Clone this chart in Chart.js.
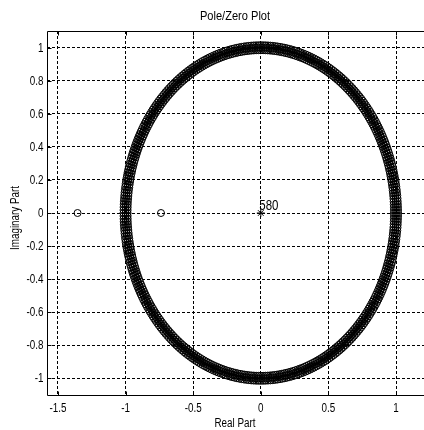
<!DOCTYPE html>
<html>
<head>
<meta charset="utf-8">
<title>Pole/Zero Plot</title>
<script src="https://cdn.jsdelivr.net/npm/chart.js@4.4.1/dist/chart.umd.min.js"></script>
<style>
  html, body { margin: 0; padding: 0; background: #fff; overflow: hidden; }
  canvas { display: block; }
</style>
</head>
<body>
<canvas id="pz" width="424" height="430"></canvas>
<script>
// zeros packed around the unit circle, given as angle (degrees) and radius
const ringAnglesDeg = [
  0, 1, 2, 3, 4, 5, 6, 7, 8, 9, 10, 11, 12, 13, 14, 15, 16, 17, 18, 19,
  20, 21, 22, 23, 24, 25, 26, 27, 28, 29, 30, 31, 32, 33, 34, 35, 36, 37, 38, 39,
  40, 41, 42, 43, 44, 45, 46, 47, 48, 49, 50, 51, 52, 53, 54, 55, 56, 57, 58, 59,
  60, 61, 62, 63, 64, 65, 66, 67, 68, 69, 70, 71, 72, 73, 74, 75, 76, 77, 78, 79,
  80, 81, 82, 83, 84, 85, 86, 87, 88, 89, 90, 91, 92, 93, 94, 95, 96, 97, 98, 99,
  100, 101, 102, 103, 104, 105, 106, 107, 108, 109, 110, 111, 112, 113, 114, 115, 116, 117, 118, 119,
  120, 121, 122, 123, 124, 125, 126, 127, 128, 129, 130, 131, 132, 133, 134, 135, 136, 137, 138, 139,
  140, 141, 142, 143, 144, 145, 146, 147, 148, 149, 150, 151, 152, 153, 154, 155, 156, 157, 158, 159,
  160, 161, 162, 163, 164, 165, 166, 167, 168, 169, 170, 171, 172, 173, 174, 175, 176, 177, 178, 179,
  180, 181, 182, 183, 184, 185, 186, 187, 188, 189, 190, 191, 192, 193, 194, 195, 196, 197, 198, 199,
  200, 201, 202, 203, 204, 205, 206, 207, 208, 209, 210, 211, 212, 213, 214, 215, 216, 217, 218, 219,
  220, 221, 222, 223, 224, 225, 226, 227, 228, 229, 230, 231, 232, 233, 234, 235, 236, 237, 238, 239,
  240, 241, 242, 243, 244, 245, 246, 247, 248, 249, 250, 251, 252, 253, 254, 255, 256, 257, 258, 259,
  260, 261, 262, 263, 264, 265, 266, 267, 268, 269, 270, 271, 272, 273, 274, 275, 276, 277, 278, 279,
  280, 281, 282, 283, 284, 285, 286, 287, 288, 289, 290, 291, 292, 293, 294, 295, 296, 297, 298, 299,
  300, 301, 302, 303, 304, 305, 306, 307, 308, 309, 310, 311, 312, 313, 314, 315, 316, 317, 318, 319,
  320, 321, 322, 323, 324, 325, 326, 327, 328, 329, 330, 331, 332, 333, 334, 335, 336, 337, 338, 339,
  340, 341, 342, 343, 344, 345, 346, 347, 348, 349, 350, 351, 352, 353, 354, 355, 356, 357, 358, 359
];
const ringRadii = [0.985, 1.0, 1.015];

// zeros on the real axis (reciprocal pair)
const realZeros = [-1.355, -0.738];

// all poles sit at the origin
const poleX = [0];
const poleY = [0];
const poleCount = 580;

const xTicks = [-1.5, -1, -0.5, 0, 0.5, 1];
const xTickLabels = ['-1.5', '-1', '-0.5', '0', '0.5', '1'];
const yTicks = [-1, -0.8, -0.6, -0.4, -0.2, 0, 0.2, 0.4, 0.6, 0.8, 1];
const yTickLabels = ['-1', '-0.8', '-0.6', '-0.4', '-0.2', '0', '0.2', '0.4', '0.6', '0.8', '1'];

const FONT = "'Liberation Sans', Arial, sans-serif";
const NARROW = 0.82;   // squeeze text horizontally, like a narrow Helvetica

// polar -> cartesian for the ring zeros
const zeroPoints = [];
ringAnglesDeg.forEach(a => {
  const t = a * Math.PI / 180;
  ringRadii.forEach(r => zeroPoints.push({ x: r * Math.cos(t), y: r * Math.sin(t) }));
});
realZeros.forEach(z => zeroPoints.push({ x: z, y: 0 }));

const polePoints = poleX.map((x, i) => ({ x: x, y: poleY[i] }));

function narrowText(ctx, text, x, y, size, align, angle) {
  ctx.save();
  ctx.translate(x, y);
  if (angle) ctx.rotate(angle);
  ctx.scale(NARROW, 1);
  ctx.font = size + 'px ' + FONT;
  ctx.textAlign = align;
  ctx.textBaseline = 'alphabetic';
  ctx.fillText(text, 0, 0);
  ctx.restore();
}

// box, inward ticks, tick labels, title, axis labels and the pole multiplicity
const framePlugin = {
  id: 'frame',
  afterDraw(chart) {
    const ctx = chart.ctx;
    const a = chart.chartArea;
    const xs = chart.scales.x, ys = chart.scales.y;
    const L = Math.round(a.left) + 0.5, T = Math.round(a.top) + 0.5, B = Math.round(a.bottom) - 0.5;
    ctx.save();
    ctx.strokeStyle = '#000';
    ctx.fillStyle = '#000';
    ctx.lineWidth = 1;
    ctx.setLineDash([]);
    ctx.beginPath();
    ctx.moveTo(a.right + 2, T); ctx.lineTo(L, T); ctx.lineTo(L, B); ctx.lineTo(a.right + 2, B);
    xTicks.forEach(v => {
      const px = Math.round(xs.getPixelForValue(v)) + 0.5;
      ctx.moveTo(px, B); ctx.lineTo(px, B - 4);
      ctx.moveTo(px, T); ctx.lineTo(px, T + 4);
    });
    yTicks.forEach(v => {
      const py = Math.round(ys.getPixelForValue(v)) + 0.5;
      ctx.moveTo(L, py); ctx.lineTo(L + 4, py);
    });
    ctx.stroke();

    xTicks.forEach((v, i) => {
      narrowText(ctx, xTickLabels[i], xs.getPixelForValue(v), 412, 12, 'center');
    });
    yTicks.forEach((v, i) => {
      narrowText(ctx, yTickLabels[i], 43.5, ys.getPixelForValue(v) + 4, 12, 'right');
    });

    narrowText(ctx, 'Pole/Zero Plot', 235, 20, 13.5, 'center');
    narrowText(ctx, 'Real Part', 235, 427, 12, 'center');
    narrowText(ctx, 'Imaginary Part', 18.5, 218, 12, 'center', -Math.PI / 2);

    const px = xs.getPixelForValue(poleX[0]);
    const py = ys.getPixelForValue(poleY[0]);
    narrowText(ctx, String(poleCount), px - 1.5, py - 3.5, 14, 'left');
    ctx.restore();
  }
};

const axisCommon = {
  type: 'linear',
  grid: { color: '#000', lineWidth: 1, drawTicks: false },
  border: { display: false, dash: [3, 2] },
  ticks: { display: false }
};

new Chart(document.getElementById('pz').getContext('2d'), {
  type: 'scatter',
  data: {
    datasets: [
      {
        label: 'Zeros',
        data: zeroPoints,
        pointStyle: 'circle',
        pointRadius: 3.5,
        borderWidth: 1,
        borderColor: '#000',
        backgroundColor: 'rgba(0,0,0,0)'
      },
      {
        label: 'Poles',
        data: polePoints,
        pointStyle: 'star',
        pointRadius: 4,
        borderWidth: 1,
        borderColor: '#000',
        backgroundColor: 'rgba(0,0,0,0)'
      }
    ]
  },
  options: {
    responsive: false,
    animation: false,
    events: [],
    layout: { autoPadding: false, padding: { top: 31, right: 0, left: 0, bottom: 0 } },
    plugins: { legend: { display: false }, tooltip: { enabled: false } },
    scales: {
      x: Object.assign({}, axisCommon, {
        min: -1.581,
        max: 1.207,
        afterFit: s => { s.height = 34; s.paddingLeft = 0; s.paddingRight = 0; },
        afterBuildTicks: s => { s.ticks = xTicks.map(v => ({ value: v })); }
      }),
      y: Object.assign({}, axisCommon, {
        min: -1.107,
        max: 1.101,
        afterFit: s => { s.width = 47; s.paddingTop = 0; s.paddingBottom = 0; },
        afterBuildTicks: s => { s.ticks = yTicks.map(v => ({ value: v })); }
      })
    }
  },
  plugins: [framePlugin]
});
</script>
</body>
</html>
